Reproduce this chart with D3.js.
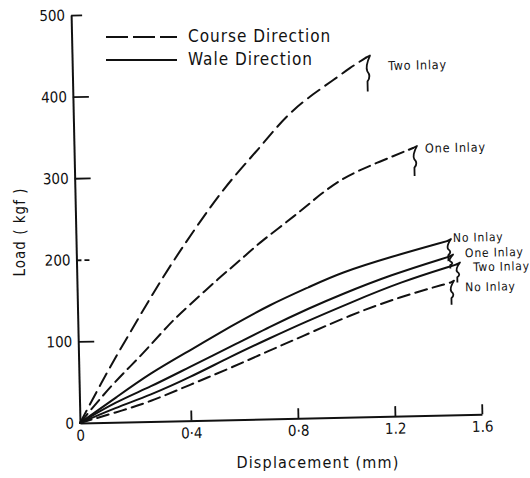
<!DOCTYPE html>
<html>
<head>
<meta charset="utf-8">
<script src="https://cdn.jsdelivr.net/npm/d3@7"></script>
<style>
  html, body { margin: 0; padding: 0; background: #fff; }
  svg { display: block; }
  text { font-family: "DejaVu Sans Condensed", "Liberation Sans Narrow", "DejaVu Sans", sans-serif; fill: #111; }
</style>
</head>
<body>
<div id="chart"></div>
<script>
// ---- data ----
const xTicks = [0, 0.4, 0.8, 1.2, 1.6];
const xTickLabels = ["0", "0·4", "0·8", "1.2", "1.6"];
const yTicks = [0, 100, 200, 300, 400, 500];
const yTickLabels = ["0", "100", "200", "300", "400", "500"];

const courseTwoX = [0, 0.112, 0.187, 0.273, 0.374, 0.527, 0.615, 0.68, 0.746, 0.808, 0.892, 0.975, 1.046, 1.113];
const courseTwoY = [0, 68, 109, 157, 209, 278, 310, 333, 358, 378, 397, 413, 428, 440];

const courseOneX = [0, 0.122, 0.221, 0.332, 0.395, 0.52, 0.597, 0.673, 0.815, 0.9, 1.008, 1.149, 1.31];
const courseOneY = [0, 48, 79, 120, 139, 175, 195, 217, 250, 271, 294, 311, 328];

const waleNoX = [0, 0.135, 0.256, 0.402, 0.554, 0.705, 0.862, 0.987, 1.194, 1.457];
const waleNoY = [0, 31, 59, 86, 114, 140, 161, 177, 195, 213];

const waleOneX = [0, 0.13, 0.255, 0.401, 0.552, 0.703, 0.86, 0.985, 1.193, 1.465];
const waleOneY = [0, 25, 42, 66, 89, 113, 135, 150, 173, 194];

const waleTwoX = [0, 0.13, 0.254, 0.4, 0.551, 0.702, 0.84, 1.025, 1.237, 1.496];
const waleTwoY = [0, 18, 32, 53, 77, 99, 118, 140, 164, 184];

const courseNoX = [0, 0.13, 0.254, 0.4, 0.55, 0.701, 0.816, 1.024, 1.235, 1.467];
const courseNoY = [0, 12, 24, 44, 63, 84, 99, 125, 146, 162];

const seriesNames = ["Two Inlay", "One Inlay", "No Inlay", "One Inlay", "Two Inlay", "No Inlay"];
const seriesDirection = ["Course", "Course", "Wale", "Wale", "Wale", "Course"];
const legendLabels = ["Course Direction", "Wale Direction"];
const xTitle = "Displacement  (mm)";
const yTitle = "Load  ( kgf )";

// ---- layout / style ----
const W = 530, H = 478;
const ox = 80, oy = 423;
const tilt = -1.25;
const FONT = '"DejaVu Sans Condensed", "Liberation Sans Narrow", "DejaVu Sans", sans-serif';

const seriesXs = [courseTwoX, courseOneX, waleNoX, waleOneX, waleTwoX, courseNoX];
const seriesYs = [courseTwoY, courseOneY, waleNoY, waleOneY, waleTwoY, courseNoY];
// annotation styling: brace length, label offset (dx, dy) from the curve end
const annot = [
  {brace: 34, dx: 22, dy: 13, fs: 12.5},
  {brace: 28, dx: 12, dy: 5, fs: 12.5},
  {brace: 20, dx: 6, dy: 1, fs: 12},
  {brace: 12, dx: 16, dy: 1, fs: 12},
  {brace: 18, dx: 17, dy: 7, fs: 12},
  {brace: 22, dx: 15, dy: 9, fs: 12}
];

const svg = d3.select("#chart").append("svg")
  .attr("width", W).attr("height", H);

const g = svg.append("g").attr("transform", `rotate(${tilt},${ox},${oy})`);

const x = d3.scaleLinear()
  .domain(xTicks)
  .range([ox, ox + 111, ox + 218, ox + 315, ox + 402]);
const y = d3.scaleLinear().domain([0, 500]).range([oy, oy - 408]);

// y axis
const yAxis = g.append("g").attr("transform", `translate(${ox},0)`)
  .call(d3.axisLeft(y).tickValues(yTicks).tickFormat((d, i) => yTickLabels[i])
    .tickSize(-15).tickSizeOuter(0).tickPadding(6));
yAxis.select(".domain").attr("stroke", "#111").attr("stroke-width", 2);
yAxis.selectAll(".tick line").attr("stroke", "#111").attr("stroke-width", 1.8)
  .attr("x2", d => d === 500 ? 11 : (d === 0 ? 0 : 16))
  .attr("stroke-dasharray", d => d === 200 ? "5,3" : null);
yAxis.selectAll(".tick text").attr("font-size", 15)
  .style("font-family", FONT).attr("fill", "#111");

// x axis
const xAxis = g.append("g").attr("transform", `translate(0,${oy})`)
  .call(d3.axisBottom(x).tickValues(xTicks).tickFormat((d, i) => xTickLabels[i])
    .tickSize(-10).tickSizeOuter(0).tickPadding(7));
xAxis.select(".domain").attr("stroke", "#111").attr("stroke-width", 2);
xAxis.selectAll(".tick line").attr("stroke", "#111").attr("stroke-width", 1.8)
  .attr("y2", d => d === 0 ? 0 : -10);
xAxis.selectAll(".tick text").attr("font-size", 15)
  .style("font-family", FONT).attr("fill", "#111");

// curves
const line = d3.line().x(d => x(d[0])).y(d => y(d[1])).curve(d3.curveBasis);
seriesXs.forEach((xs, i) => {
  const pts = xs.map((v, j) => [v, seriesYs[i][j]]);
  const dashed = seriesDirection[i] === "Course";
  g.append("path").datum(pts)
    .attr("d", line)
    .attr("fill", "none")
    .attr("stroke", "#111")
    .attr("stroke-width", 2)
    .attr("stroke-linecap", "round")
    .attr("stroke-dasharray", dashed ? (i === 0 ? "14,7" : "12,6") : null);

  // break brace + label
  const ex = x(xs[xs.length - 1]), ey = y(seriesYs[i][seriesYs[i].length - 1]);
  const a = annot[i];
  const h = a.brace;
  const brace = `M${ex},${ey} L${ex + 4},${ey - 2} ` +
    `Q${ex - 1},${ey + h * 0.25} ${ex + 1},${ey + h * 0.4} ` +
    `Q${ex + 5},${ey + h * 0.55} ${ex + 1},${ey + h * 0.7} ` +
    `L${ex + 1},${ey + h}`;
  g.append("path").attr("d", brace).attr("fill", "none")
    .attr("stroke", "#111").attr("stroke-width", 1.8).attr("stroke-linejoin", "round");
  g.append("text")
    .attr("x", ex + a.dx).attr("y", ey + a.dy)
    .attr("font-size", a.fs)
    .attr("letter-spacing", 0.8)
    .text(seriesNames[i]);
});

// legend
const legend = svg.append("g");
legendLabels.forEach((lab, i) => {
  const ly = 37 + i * 23;
  legend.append("line").attr("x1", 106).attr("x2", 177).attr("y1", ly).attr("y2", ly)
    .attr("stroke", "#111").attr("stroke-width", 2)
    .attr("stroke-dasharray", i === 0 ? "22,5" : null);
  legend.append("text").attr("x", 188).attr("y", ly + 5)
    .attr("font-size", 17).attr("letter-spacing", 1)
    .text(lab);
});

// axis titles
svg.append("text")
  .attr("x", 318).attr("y", 468)
  .attr("text-anchor", "middle")
  .attr("font-size", 16).attr("letter-spacing", 1.2)
  .text(xTitle);
svg.append("text")
  .attr("transform", `translate(25,232) rotate(-90)`)
  .attr("text-anchor", "middle")
  .attr("font-size", 15).attr("letter-spacing", 1)
  .text(yTitle);
</script>
</body>
</html>
